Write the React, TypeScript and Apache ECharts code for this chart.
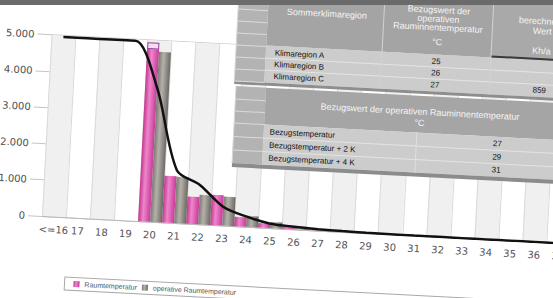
import React, { useEffect, useRef } from 'react';
import * as echarts from 'echarts';

// ---- data ----
const categories = ['<=16', '17', '18', '19', '20', '21', '22', '23', '24', '25', '26', '27', '28', '29', '30', '31', '32', '33', '34', '35', '36', '37'];
const raumtemperatur = [0, 0, 0, 0, 4750, 1290, 750, 835, 260, 120, 50, 25, 10, 5, 0, 0, 0, 0, 0, 0, 0, 0];
const raumtemperaturKappe: (number | string)[] = ['-', '-', '-', '-', 190, '-', '-', '-', '-', '-', '-', '-', '-', '-', '-', '-', '-', '-', '-', '-', '-', '-'];
const operativeRaumtemperatur = [0, 0, 0, 0, 4690, 1280, 815, 800, 305, 170, 80, 40, 15, 5, 0, 0, 0, 0, 0, 0, 0, 0];
const summenlinie = [4960, 4960, 4960, 4960, 3700, 1460, 1080, 520, 280, 120, 70, 40, 20, 10, 5, 0, 0, 0, 0, 0, 0, 0];
const yMax = 5000;
const yInterval = 1000;

const legendNames = ['Raumtemperatur', 'operative Raumtemperatur'];

const table1Header1 = 'Sommerklimaregion';
const table1Header2 = ['Bezugswert der', 'operativen', 'Rauminnentemperatur', '°C'];
const table1Header3 = ['berechneter', 'Wert', 'Kh/a'];
const klimaregionen = ['Klimaregion A', 'Klimaregion B', 'Klimaregion C'];
const klimaregionWerte = ['25', '26', '27'];
const berechneteWerte = ['', '', '859'];

const table2Header = ['Bezugswert der operativen Rauminnentemperatur', '°C'];
const bezugsLabels = ['Bezugstemperatur', 'Bezugstemperatur + 2 K', 'Bezugstemperatur + 4 K'];
const bezugsWerte = ['27', '29', '31'];

// ---- layout helpers (chart frame offsets inside the rotated div) ----
const DX = 20;
const DY = 30;

function rect(x: number, y: number, w: number, h: number, fill: string, extra: any = {}) {
  return { type: 'rect', z: 50, shape: { x: x + DX, y: y + DY, width: w, height: h }, style: { fill, ...extra } };
}
function hline(x1: number, x2: number, y: number, stroke: string, lw = 1) {
  return { type: 'line', z: 51, shape: { x1: x1 + DX, y1: y + DY, x2: x2 + DX, y2: y + DY }, style: { stroke, lineWidth: lw } };
}
function vline(x: number, y1: number, y2: number, stroke: string, lw = 1) {
  return { type: 'line', z: 51, shape: { x1: x + DX, y1: y1 + DY, x2: x + DX, y2: y2 + DY }, style: { stroke, lineWidth: lw } };
}
function txt(text: string, x: number, y: number, fill: string, size: number, align: string = 'left') {
  return {
    type: 'text',
    z: 52,
    style: {
      text,
      x: x + DX,
      y: y + DY,
      fill,
      fontSize: size,
      fontFamily: 'Liberation Sans',
      align,
      verticalAlign: 'middle',
      textAlign: align,
      textVerticalAlign: 'middle',
    },
  };
}

function buildTables() {
  const els: any[] = [];
  // ---------- table 1 ----------
  els.push(rect(227, -40, 30, 111, '#b3b3b3'));
  for (let y = -37; y <= 71; y += 12) els.push(hline(227, 257, y, '#dadada'));
  els.push(vline(227, -40, 71, '#d6d6d6'));
  els.push(rect(257, -40, 400, 74, '#a4a4a4'));
  els.push(rect(482, -40, 175, 74, '#a9a9a9'));
  els.push(hline(482, 657, 33, '#3a3a3a', 2));
  els.push(rect(257, 34, 400, 37, '#cccccc'));
  els.push(hline(257, 657, 46.5, '#e4e4e4'));
  els.push(hline(257, 657, 58.5, '#e4e4e4'));
  els.push(vline(373, -40, 71, '#d2d2d2'));
  els.push(vline(482, -40, 71, '#d2d2d2'));
  els.push(rect(227, 71, 430, 3, '#8e8e8e'));
  els.push(txt(table1Header1, 316, -1, '#f5f5f5', 9, 'center'));
  const h2y = [-10.6, -1.6, 7, 21.5];
  table1Header2.forEach((t, i) => els.push(txt(t, 427.5, h2y[i], '#f5f5f5', 9, 'center')));
  const h3y = [-4.8, 5.2, 25];
  table1Header3.forEach((t, i) => els.push(txt(t, 532, h3y[i], '#f5f5f5', 9, 'center')));
  const rowY1 = [41, 52.5, 64.5];
  klimaregionen.forEach((t, i) => {
    els.push(txt(t, 266, rowY1[i], '#111111', 8));
    els.push(txt(klimaregionWerte[i], 427.5, rowY1[i], '#111111', 8, 'center'));
    if (berechneteWerte[i]) els.push(txt(berechneteWerte[i], 532, rowY1[i], '#111111', 8, 'center'));
  });

  // ---------- table 2 ----------
  els.push(rect(229, 76, 30, 77, '#b3b3b3'));
  [89, 101, 113, 126.5, 140].forEach((y) => els.push(hline(229, 259, y, '#dadada')));
  els.push(vline(229, 76, 153, '#d6d6d6'));
  els.push(rect(259, 76, 400, 37, '#a5a5a5'));
  els.push(rect(259, 113, 400, 40, '#cccccc'));
  els.push(hline(259, 659, 126.5, '#e4e4e4'));
  els.push(hline(259, 659, 140, '#e4e4e4'));
  els.push(vline(412, 113, 153, '#e0e0e0'));
  els.push(rect(229, 153, 430, 4, '#8c8c8c'));
  els.push(txt(table2Header[0], 414, 92, '#f5f5f5', 9, 'center'));
  els.push(txt(table2Header[1], 414, 103, '#f5f5f5', 9, 'center'));
  const rowY2 = [120, 133.3, 146.3];
  bezugsLabels.forEach((t, i) => {
    els.push(txt(t, 265, rowY2[i], '#111111', 8));
    els.push(txt(bezugsWerte[i], 493, rowY2[i], '#111111', 8, 'center'));
  });
  return els;
}

const pinkFill = new echarts.graphic.LinearGradient(0, 0, 1, 0, [
  { offset: 0, color: '#c53592' },
  { offset: 0.4, color: '#ee86c9' },
  { offset: 1, color: '#c9399b' },
]);
const grayFill = new echarts.graphic.LinearGradient(0, 0, 1, 0, [
  { offset: 0, color: '#7b7872' },
  { offset: 0.4, color: '#b5b1aa' },
  { offset: 1, color: '#6c6964' },
]);

export default function App() {
  const ref = useRef<HTMLDivElement>(null);
  useEffect(() => {
    if (!ref.current) return;
    const chart = echarts.init(ref.current, undefined, { renderer: 'svg' });
    chart.setOption({
      animation: false,
      backgroundColor: '#ffffff',
      grid: { left: 42 + DX, top: 34.6 + DY, width: 24.05 * categories.length, height: 181.4 },
      legend: {
        data: legendNames,
        left: 68 + DX,
        top: 275.6 + DY,
        orient: 'horizontal',
        padding: [3, 330, 3, 9],
        itemWidth: 6,
        itemHeight: 6,
        itemGap: 5,
        borderColor: '#a8a8a8',
        borderWidth: 1,
        icon: 'rect',
        textStyle: { fontSize: 7, color: '#555555', fontFamily: 'Liberation Sans' },
      },
      xAxis: {
        type: 'category',
        data: categories,
        boundaryGap: true,
        axisLine: { show: true, lineStyle: { color: '#b8b8b8' } },
        axisTick: { show: false },
        axisLabel: { interval: 0, margin: 8, fontSize: 10, color: '#555555', fontFamily: 'DejaVu Sans' },
        splitLine: { show: true, interval: 0, lineStyle: { color: '#d9d9d9' } },
        splitArea: { show: true, interval: 0, areaStyle: { color: ['#f0f0f0', '#ffffff'] } },
      },
      yAxis: {
        type: 'value',
        min: 0,
        max: yMax,
        interval: yInterval,
        axisLine: { show: false },
        axisTick: { show: true, length: 14, lineStyle: { color: '#c4c4c4' } },
        axisLabel: {
          margin: 17,
          fontSize: 10,
          color: '#505050',
          fontFamily: 'DejaVu Sans',
          formatter: (v: number) => (v === 0 ? '0' : `${v / 1000}.000`),
        },
        splitLine: { show: true, lineStyle: { color: '#c8c8c8' } },
      },
      series: [
        {
          name: legendNames[0],
          type: 'bar',
          stack: 'raum',
          barWidth: 12,
          barGap: '0%',
          data: raumtemperatur,
          itemStyle: { color: pinkFill },
        },
        {
          name: 'Raumtemperatur Kappe',
          type: 'bar',
          stack: 'raum',
          barWidth: 12,
          barGap: '0%',
          data: raumtemperaturKappe,
          itemStyle: { color: '#f5dcef', borderColor: '#8e3f9a', borderWidth: 1 },
        },
        {
          name: legendNames[1],
          type: 'bar',
          barWidth: 12,
          barGap: '0%',
          data: operativeRaumtemperatur,
          itemStyle: { color: grayFill },
        },
        {
          name: 'Summenlinie',
          type: 'line',
          data: summenlinie,
          smooth: 0.3,
          showSymbol: false,
          symbol: 'none',
          lineStyle: { color: '#111111', width: 2.5 },
          z: 5,
        },
      ],
      graphic: buildTables(),
    });
    return () => chart.dispose();
  }, []);

  return (
    <div style={{ position: 'fixed', left: 0, top: 0, width: 553, height: 298, overflow: 'hidden', background: '#ffffff' }}>
      <div
        ref={ref}
        style={{
          position: 'absolute',
          left: -DX,
          top: -DY,
          width: 620,
          height: 340,
          transform: 'rotate(3deg)',
          transformOrigin: `${40 + DX}px ${216 + DY}px`,
        }}
      />
      <div style={{ position: 'absolute', left: 0, top: 0, width: 553, height: 5, background: '#6b6b6b' }} />
    </div>
  );
}
